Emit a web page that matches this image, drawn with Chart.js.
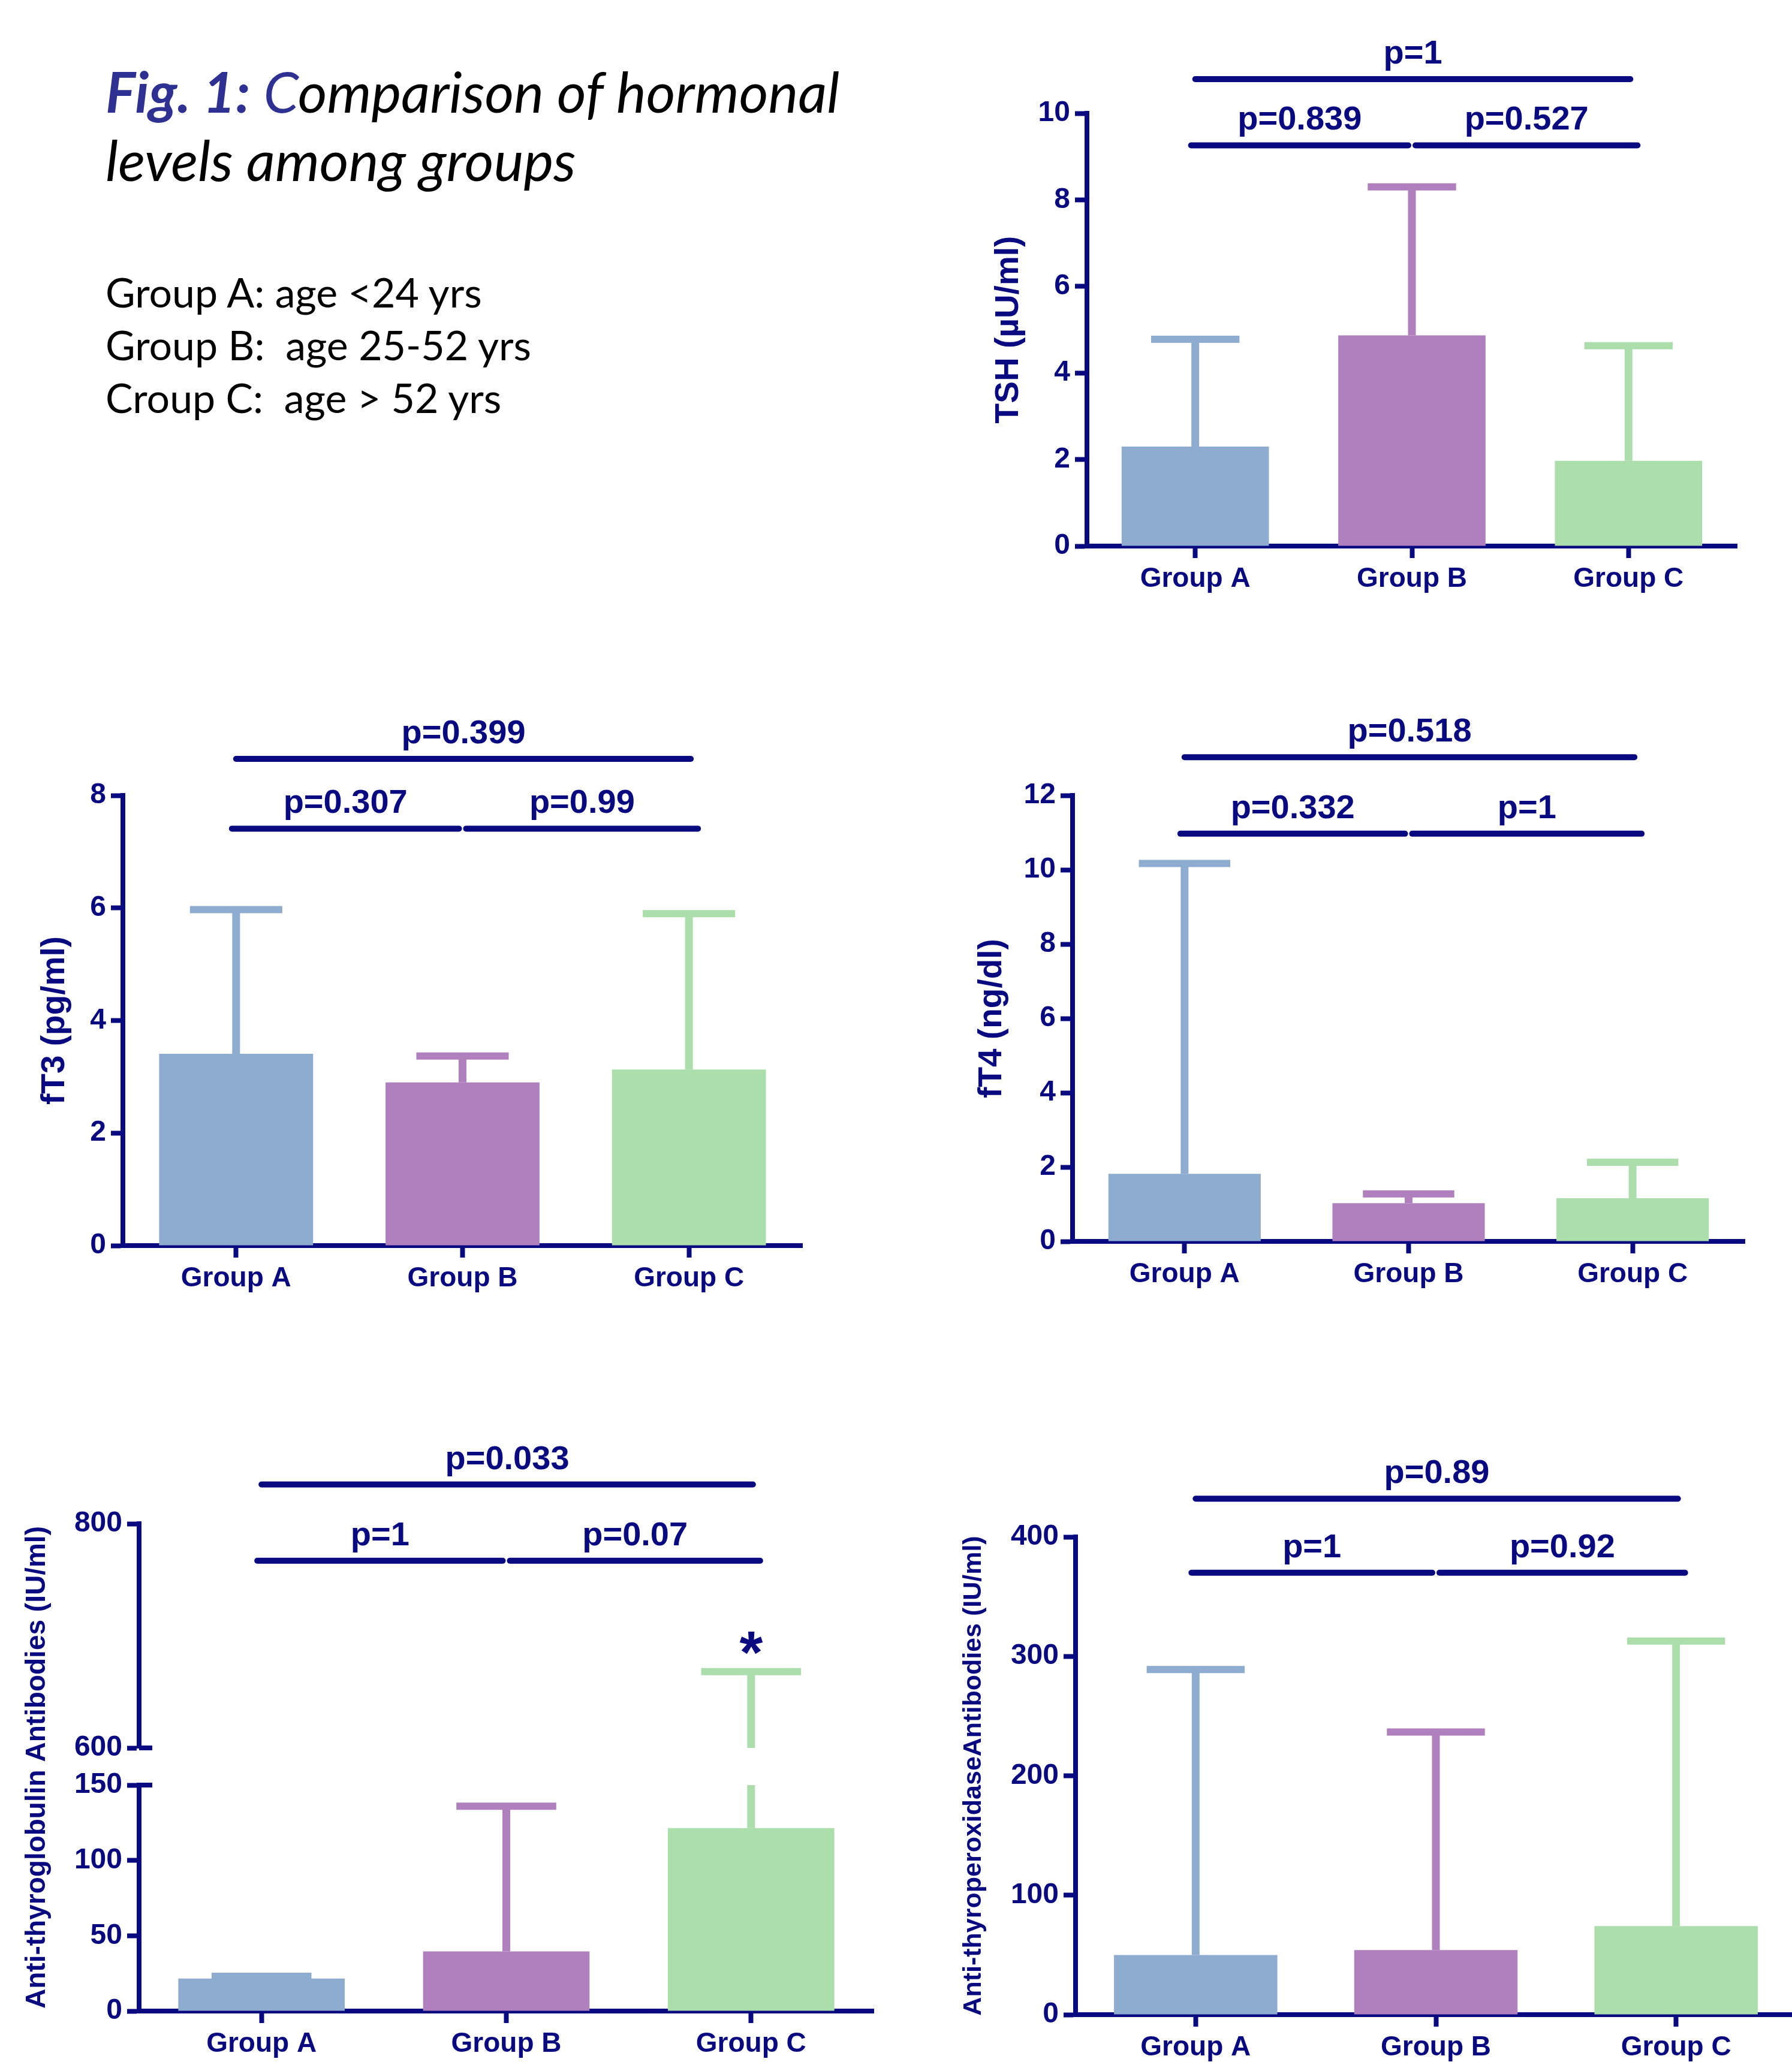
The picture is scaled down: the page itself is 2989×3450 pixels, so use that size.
<!DOCTYPE html>
<html>
<head>
<meta charset="utf-8">
<script src="https://cdn.jsdelivr.net/npm/chart.js@4.4.1/dist/chart.umd.min.js"></script>
<style>
  html, body { margin: 0; padding: 0; background: #fff; width: 2989px; height: 3450px; overflow: hidden; position: relative; }
  canvas { position: absolute; }
  .cap { position: absolute; left: 176px; font-family: Lato, 'Liberation Sans', sans-serif; white-space: pre; color: #000; }
  #title { top: 95px; font-size: 94px; line-height: 114px; font-style: italic; }
  #title b, #title span { color: #2e3192; }
  #groups { top: 443px; font-size: 68px; line-height: 88px; }
</style>
</head>
<body>
<div id="title" class="cap"><b>Fig. 1:</b> <span>C</span>omparison of hormonal
levels among groups</div>
<div id="groups" class="cap">Group A: age &lt;24 yrs
Group B:  age 25-52 yrs
Croup C:  age &gt; 52 yrs</div>
<canvas id="tsh"></canvas>
<canvas id="ft3"></canvas>
<canvas id="ft4"></canvas>
<canvas id="tg"></canvas>
<canvas id="tpo"></canvas>
<script>
// ---- data (means, +SD, p values) ----
const groups = ['Group A', 'Group B', 'Group C'];
const pairs = [[0, 1], [1, 2], [0, 2]];

const tshMean = [2.30, 4.87, 1.97];
const tshSD   = [2.48, 3.43, 2.66];
const tshP    = ['p=0.839', 'p=0.527', 'p=1'];
const tshAxis = [0, 10, 2];

const ft3Mean = [3.41, 2.90, 3.13];
const ft3SD   = [2.56, 0.47, 2.77];
const ft3P    = ['p=0.307', 'p=0.99', 'p=0.399'];
const ft3Axis = [0, 8, 2];

const ft4Mean = [1.82, 1.03, 1.16];
const ft4SD   = [8.35, 0.25, 0.97];
const ft4P    = ['p=0.332', 'p=1', 'p=0.518'];
const ft4Axis = [0, 12, 2];

const tgMean = [21.6, 39.6, 121.5];
const tgSD   = [1.5, 96.4, 546.5];
const tgP    = ['p=1', 'p=0.07', 'p=0.033'];
const tgSig  = ['', '', '*'];
const tgLowAxis  = [0, 150, 50];
const tgHighAxis = [600, 800, 200];

const tpoMean = [49.9, 54.1, 74.2];
const tpoSD   = [239.1, 182.5, 238.6];
const tpoP    = ['p=1', 'p=0.92', 'p=0.89'];
const tpoAxis = [0, 400, 100];

// ---- look ----
const NAVY = '#0a0a80';
const COLORS = ['#8eabd0', '#b07fbd', '#acdeab'];
const FONT = "'Liberation Sans', Arial, sans-serif";
const W = 230, H = 120, TOP = 300, RIGHT = 12;

// plot boxes on the page (axis x, top, bottom, right) + bracket heights in axis units
const box = {
  tsh: { x: 1813, top: 189, bottom: 911, right: 2897, d: 130, br: [9.26, 10.79] },
  ft3: { x: 205, top: 1327, bottom: 2078, right: 1338, d: 113, br: [7.41, 8.65] },
  ft4: { x: 1789, top: 1327, bottom: 2071, right: 2910, d: 134, br: [10.97, 13.03] },
  tg:  { x: 232, top: 2542, bottom: 3355, right: 1457, d: 170, br: [767, 835] },
  tpo: { x: 1794, top: 2564, bottom: 3361, right: 2996, d: 170, br: [370, 432] }
};

function seg(ctx, x1, y1, x2, y2, w, cap) {
  ctx.lineWidth = w; ctx.lineCap = cap || 'butt';
  ctx.beginPath(); ctx.moveTo(x1, y1); ctx.lineTo(x2, y2); ctx.stroke();
}

// error bars, comparison brackets, break marks
function marks(m) {
  return {
    id: 'marks',
    afterDatasetsDraw(chart) {
      const ctx = chart.ctx, x = chart.scales.x;
      const ds = chart.data.datasets[0];
      const bars = chart.getDatasetMeta(0).data;
      ctx.save();
      bars.forEach((bar, i) => {
        const lo = ds.data[i], hi = lo + m.sd[i], half = bar.width * 0.3;
        ctx.strokeStyle = ds.backgroundColor[i];
        m.err.forEach(id => {
          const s = chart.scales[id];
          const a = Math.max(lo, s.min), b = Math.min(hi, s.max);
          if (b > a) seg(ctx, bar.x, s.getPixelForValue(a), bar.x, s.getPixelForValue(b), 13);
          if (hi >= s.min && hi <= s.max) {
            const y = s.getPixelForValue(hi);
            seg(ctx, bar.x - half, y, bar.x + half, y, 12);
            if (m.sig && m.sig[i]) {
              ctx.fillStyle = NAVY; ctx.font = 'bold 100px ' + FONT;
              ctx.textAlign = 'center'; ctx.textBaseline = 'alphabetic';
              ctx.fillText(m.sig[i], bar.x, y + 2);
            }
          }
        });
      });

      const s = chart.scales[m.bScale];
      ctx.strokeStyle = NAVY; ctx.fillStyle = NAVY;
      ctx.font = 'bold 56px ' + FONT; ctx.textAlign = 'center'; ctx.textBaseline = 'alphabetic';
      pairs.forEach(([i, j], k) => {
        let x1 = x.getPixelForValue(i), x2 = x.getPixelForValue(j);
        if (j - i > 1) x2 += 3;
        else if (i === 0) { x1 -= 7; x2 -= 6; }
        else { x1 += 6; x2 += 15; }
        const y = s.getPixelForValue(m.levels[j - i - 1]);
        seg(ctx, x1, y, x2, y, 10, 'round');
        ctx.fillText(m.p[k], (x1 + x2) / 2, y - 26);
      });

      const ax = chart.chartArea.left;
      (m.breaks || []).forEach(([id, v]) => {
        const y = chart.scales[id].getPixelForValue(v);
        seg(ctx, ax, y, ax + 22, y, 8);
      });

      if (m.title) {
        const top = chart.scales[m.title.from].top, bot = chart.scales[m.title.to].bottom;
        ctx.translate(ax - m.title.d, (top + bot) / 2);
        ctx.rotate(-Math.PI / 2);
        ctx.font = 'bold ' + m.title.size + 'px ' + FONT;
        ctx.textBaseline = 'middle';
        ctx.fillText(m.title.text, 0, 0);
      }
      ctx.restore();
    }
  };
}

function xAxis() {
  return {
    border: { color: NAVY, width: 8 },
    grid: { drawOnChartArea: false, offset: false, tickLength: 20, tickWidth: 8, tickColor: NAVY },
    ticks: { color: NAVY, font: { family: FONT, size: 46, weight: 'bold' }, padding: 8 },
    afterFit: s => { s.height = H; }
  };
}

function yAxis(ax, title, size, d, extra) {
  const pad = title ? W - d - size * 0.6 : 0;
  return Object.assign({
    position: 'left', min: ax[0], max: ax[1],
    border: { color: NAVY, width: 8 },
    grid: { drawOnChartArea: false, tickLength: 20, tickWidth: 8, tickColor: NAVY },
    ticks: { stepSize: ax[2], color: NAVY, font: { family: FONT, size: 48, weight: 'bold' }, padding: 8 },
    title: { display: !!title, text: title, color: NAVY, font: { family: FONT, size: size, weight: 'bold' }, padding: { top: pad, bottom: 0 } },
    afterFit: s => { s.width = W; }
  }, extra || {});
}

function barChart(id, b, mean, scales, m) {
  const cv = document.getElementById(id);
  const left = b.x - W, top = b.top - TOP;
  cv.width = b.right + RIGHT - left;
  cv.height = b.bottom + H - top;
  cv.style.left = left + 'px';
  cv.style.top = top + 'px';
  const yId = Object.keys(scales)[0];
  m.levels = b.br;
  m.bScale = m.bScale || yId;
  m.err = m.err || [yId];
  return new Chart(cv, {
    type: 'bar',
    data: {
      labels: groups,
      datasets: [{ data: mean, yAxisID: yId, backgroundColor: COLORS, borderWidth: 0,
                   barPercentage: 0.68, categoryPercentage: 1 }]
    },
    options: {
      responsive: false, animation: false,
      layout: { padding: { top: TOP, right: RIGHT, left: 0, bottom: 0 } },
      plugins: { legend: { display: false }, tooltip: { enabled: false } },
      scales: Object.assign({ x: xAxis() }, scales)
    },
    plugins: [marks(m)]
  });
}

barChart('tsh', box.tsh, tshMean, { y: yAxis(tshAxis, 'TSH (µU/ml)', 55, box.tsh.d) }, { sd: tshSD, p: tshP });
barChart('ft3', box.ft3, ft3Mean, { y: yAxis(ft3Axis, 'fT3 (pg/ml)', 55, box.ft3.d) }, { sd: ft3SD, p: ft3P });
barChart('ft4', box.ft4, ft4Mean, { y: yAxis(ft4Axis, 'fT4 (ng/dl)', 55, box.ft4.d) }, { sd: ft4SD, p: ft4P });

// broken axis: two stacked y scales with an empty spacer between them
barChart('tg', box.tg, tgMean, {
  yLow:  yAxis(tgLowAxis, '', 0, 0, { stack: 'tg', stackWeight: 377 }),
  yGap:  { position: 'left', stack: 'tg', stackWeight: 62, min: 0, max: 1,
           border: { display: false }, grid: { display: false }, ticks: { display: false },
           afterFit: s => { s.width = W; } },
  yHigh: yAxis(tgHighAxis, '', 0, 0, { stack: 'tg', stackWeight: 374 })
}, {
  sd: tgSD, p: tgP, sig: tgSig, bScale: 'yHigh', err: ['yLow', 'yHigh'],
  breaks: [['yHigh', 600], ['yLow', 150]],
  title: { text: 'Anti-thyroglobulin Antibodies (IU/ml)', size: 46, d: box.tg.d, from: 'yHigh', to: 'yLow' }
});

barChart('tpo', box.tpo, tpoMean, { y: yAxis(tpoAxis, 'Anti-thyroperoxidaseAntibodies (IU/ml)', 43, box.tpo.d) }, { sd: tpoSD, p: tpoP });
</script>
</body>
</html>
